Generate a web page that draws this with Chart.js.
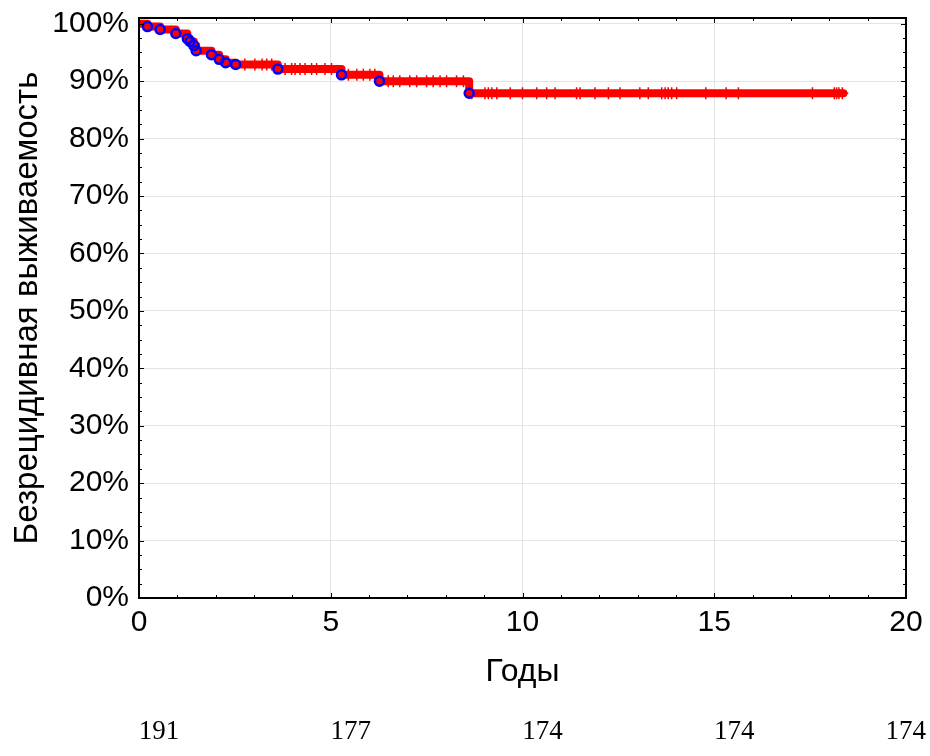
<!DOCTYPE html>
<html>
<head>
<meta charset="utf-8">
<script src="https://cdn.jsdelivr.net/npm/chart.js@4/dist/chart.umd.min.js"></script>
<style>
    html, body { margin: 0; padding: 0; background: #fff; }
    #wrap { width: 930px; height: 756px; }
</style>
</head>
<body>
<div id="wrap"><canvas id="kmChart" width="930" height="756"></canvas></div>
<script>
// Моменты рецидивов (годы) и выживаемость после них (%)
const eventTimes = [0.22, 0.55, 0.96, 1.26, 1.33, 1.43, 1.49, 1.89, 2.09, 2.26, 2.52, 3.62, 5.28, 6.27, 8.61];
const eventSurv  = [99.5, 99.0, 98.3, 97.4, 96.9, 96.2, 95.3, 94.6, 93.8, 93.2, 92.9, 92.1, 91.1, 90.0, 87.9];

// Цензурированные наблюдения (годы)
const censorTimes = [
    2.76, 3.02, 3.21, 3.33, 3.46, 3.81, 3.98, 4.07, 4.20, 4.33, 4.50, 4.63, 4.85, 5.02,
    5.46, 5.68, 5.85, 6.02, 6.15,
    6.50, 6.63, 6.80, 7.06, 7.24, 7.50, 7.67, 7.85, 8.02, 8.28, 8.46,
    8.68, 9.02, 9.11, 9.20, 9.33, 9.68, 10.00, 10.37, 10.63, 10.85, 11.41, 11.50, 11.89,
    12.24, 12.54, 13.06, 13.28, 13.63, 13.72, 13.80, 13.89, 14.02, 14.78, 15.31, 15.63,
    17.56, 18.13, 18.19, 18.25, 18.34
];
const lastTime = 18.37;

// Число пациентов под наблюдением
const riskTimes  = [0, 5, 10, 15, 20];
const riskCounts = [191, 177, 174, 174, 174];

const yTicks = [0, 10, 20, 30, 40, 50, 60, 70, 80, 90, 100];
const xTicks = [0, 5, 10, 15, 20];

// Уровень кривой в момент t
function survivalAt(t) {
    let s = 100;
    eventTimes.forEach((et, i) => {
        if (et <= t) s = eventSurv[i];
    });
    return s;
}

// Ступенчатая кривая
const stepPoints = [{ x: 0, y: 100 }];
eventTimes.forEach((t, i) => stepPoints.push({ x: t, y: eventSurv[i] }));
stepPoints.push({ x: lastTime, y: survivalAt(lastTime) });

const eventPoints = eventTimes.map((t, i) => ({ x: t, y: eventSurv[i] }));
const censorPoints = censorTimes.map(t => ({ x: t, y: survivalAt(t) }));

// Рамка и внутренние засечки
const framePlugin = {
    id: 'frame',
    afterDatasetsDraw(chart) {
        const ctx = chart.ctx;
        const a = chart.chartArea;
        const xs = chart.scales.x;
        const ys = chart.scales.y;
        ctx.save();
        ctx.strokeStyle = '#000';
        ctx.lineWidth = 1;
        ctx.beginPath();
        for (let v = 0; v <= 20; v += 1) {
            const px = Math.round(xs.getPixelForValue(v)) + 0.5;
            const len = v % 5 === 0 ? 5 : 3;
            ctx.moveTo(px, a.bottom); ctx.lineTo(px, a.bottom - len);
            ctx.moveTo(px, a.top); ctx.lineTo(px, a.top + len);
        }
        for (let v = 0; v <= 100; v += 2.5) {
            const py = Math.round(ys.getPixelForValue(v)) + 0.5;
            const len = v % 10 === 0 ? 5 : 3;
            ctx.moveTo(a.left, py); ctx.lineTo(a.left + len, py);
            ctx.moveTo(a.right, py); ctx.lineTo(a.right - len, py);
        }
        ctx.stroke();
        ctx.lineWidth = 2;
        ctx.strokeRect(a.left, a.top, a.right - a.left, a.bottom - a.top);
        ctx.restore();
    },
    afterDraw(chart) {
        const ctx = chart.ctx;
        const xs = chart.scales.x;
        ctx.save();
        ctx.fillStyle = '#000';
        ctx.font = '27px "Liberation Serif", "Times New Roman", serif';
        ctx.textAlign = 'center';
        ctx.textBaseline = 'middle';
        riskTimes.forEach((t, i) => {
            const txt = String(riskCounts[i]);
            const w = ctx.measureText(txt).width;
            let px = xs.getPixelForValue(t) + 20;
            px = Math.min(px, chart.width - w / 2 - 4);
            ctx.fillText(txt, px, 732);
        });
        ctx.restore();
    }
};

const ctx = document.getElementById('kmChart').getContext('2d');
new Chart(ctx, {
    type: 'scatter',
    data: {
        datasets: [
            {
                label: 'events',
                data: eventPoints,
                showLine: false,
                pointStyle: 'circle',
                pointRadius: 4.5,
                pointBorderWidth: 2.5,
                pointBorderColor: '#0000ff',
                pointBackgroundColor: 'rgba(0,0,0,0)',
                order: 0
            },
            {
                label: 'censored',
                data: censorPoints,
                showLine: false,
                pointStyle: 'cross',
                pointRadius: 6,
                pointBorderWidth: 1.5,
                pointBorderColor: '#ff0000',
                order: 1
            },
            {
                label: 'KM',
                data: stepPoints,
                showLine: true,
                stepped: true,
                borderColor: '#ff0000',
                borderWidth: 8,
                borderJoinStyle: 'round',
                borderCapStyle: 'round',
                pointRadius: 0,
                order: 2
            }
        ]
    },
    options: {
        responsive: false,
        animation: false,
        layout: { padding: { left: 0, right: 24, top: 18, bottom: 0 } },
        plugins: {
            legend: { display: false },
            tooltip: { enabled: false }
        },
        scales: {
            x: {
                type: 'linear',
                min: 0,
                max: 20,
                afterBuildTicks: (scale) => { scale.ticks = xTicks.map(v => ({ value: v })); },
                afterFit: (scale) => {
                    scale.height = 158;
                    scale.paddingLeft = 0;
                    scale.paddingRight = 0;
                },
                grid: { color: '#e4e4e4', drawTicks: false },
                border: { display: false },
                ticks: {
                    padding: 7,
                    color: '#000',
                    font: { family: '"Liberation Sans", Arial, sans-serif', size: 30 }
                },
                title: {
                    display: true,
                    text: 'Годы',
                    color: '#000',
                    padding: { top: 65, bottom: 65 },
                    font: { family: '"Liberation Sans", Arial, sans-serif', size: 32 }
                }
            },
            y: {
                type: 'linear',
                min: 0,
                max: 101,
                afterBuildTicks: (scale) => { scale.ticks = yTicks.map(v => ({ value: v })); },
                afterFit: (scale) => {
                    scale.width = 139;
                    scale.paddingTop = 0;
                    scale.paddingBottom = 0;
                },
                grid: { color: '#e4e4e4', drawTicks: false },
                border: { display: false },
                ticks: {
                    padding: 10,
                    color: '#000',
                    callback: (v) => v + '%',
                    font: { family: '"Liberation Sans", Arial, sans-serif', size: 30 }
                },
                title: {
                    display: true,
                    text: 'Безрецидивная выживаемость',
                    color: '#000',
                    padding: { top: 8, bottom: 8 },
                    font: { family: '"Liberation Sans", Arial, sans-serif', size: 33 }
                }
            }
        }
    },
    plugins: [framePlugin]
});
</script>
</body>
</html>
